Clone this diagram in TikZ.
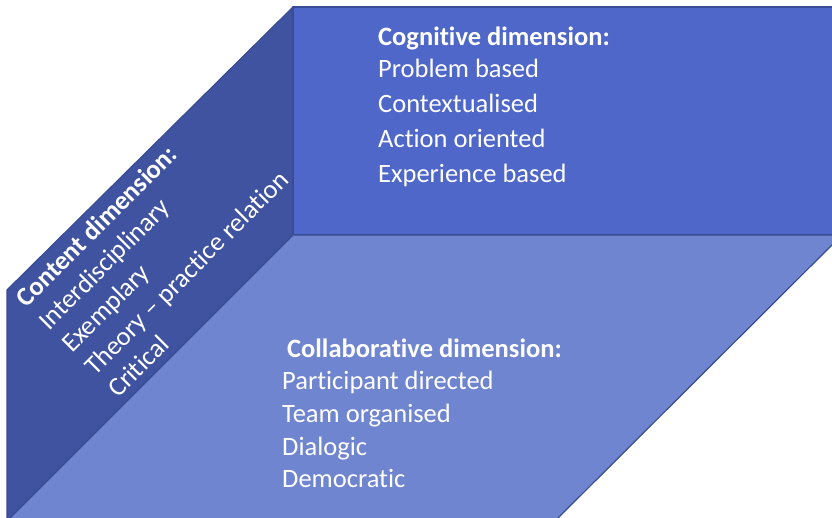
\documentclass[tikz,border=0pt]{standalone}
\usepackage{fontspec}
\setmainfont[Ligatures={NoCommon}]{Carlito}
\definecolor{backface}{RGB}{79,103,200}
\definecolor{leftface}{RGB}{64,83,160}
\definecolor{bottomface}{RGB}{112,133,208}
\definecolor{edgecol}{RGB}{56,76,148}
\begin{document}
\begin{tikzpicture}[x=1pt,y=-1pt,
  face/.style={draw=edgecol,line width=1.2pt,line join=round},
  txt/.style={text=white,anchor=base west,inner sep=0pt,font=\fontsize{26.5}{30}\selectfont},
  ttl/.style={txt,font=\fontsize{26.5}{30}\selectfont\bfseries},
  rtxt/.style={txt,rotate=45},
  rttl/.style={ttl,rotate=45}]
\useasboundingbox (0,0) rectangle (832,518);
\clip (0,0) rectangle (832,518);
% faces
\fill[backface,face] (293,7) -- (842,7) -- (842,235) -- (293,235) -- cycle;
\fill[leftface,face] (7,290) -- (293,7) -- (293,235) -- (7,521) -- cycle;
\fill[bottomface,face] (293,235) -- (842,235) -- (555,521) -- (7,521) -- cycle;
% cognitive
\node[ttl] (cogt) at (378,46) {Cognitive dimension:};
\node[txt] (cog1) at (378,78) {Problem based};
\node[txt] (cog2) at (378,113) {Contextualised};
\node[txt] (cog3) at (378,148) {Action oriented};
\node[txt] (cog4) at (378,183) {Experience based};
% collaborative
\node[ttl] (colt) at (287,357) {Collaborative dimension:};
\node[txt] (col1) at (282,389) {Participant directed};
\node[txt] (col2) at (282,422) {Team organised};
\node[txt] (col3) at (282,455) {Dialogic};
\node[txt] (col4) at (282,487) {Democratic};
% content (rotated)
\node[rttl] (cont) at (26,309) {Content dimension:};
\node[rtxt] (con1) at (49,331.5) {Interdisciplinary};
\node[rtxt] (con2) at (72,354) {Exemplary};
\node[rtxt] (con3) at (95,376.5) {Theory – practice relation};
\node[rtxt] (con4) at (118,399) {Critical};
\end{tikzpicture}
\end{document}
